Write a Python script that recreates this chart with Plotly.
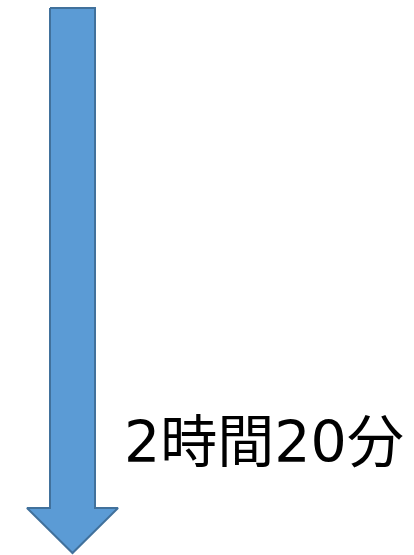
import plotly.graph_objects as go

# Data
label = ["2時間20分"]
duration_minutes = [140]

# Layout geometry (pixels in a 414x555 canvas)
W, H = 414, 555
shaft_left, shaft_right = 50, 95
shaft_top, head_top = 8, 508
head_left, head_right = 27, 118
tip_y = 553
tip_x = (shaft_left + shaft_right) / 2

xs = [shaft_left, shaft_right, shaft_right, head_right, tip_x, head_left, shaft_left, shaft_left]
ys = [shaft_top, shaft_top, head_top, head_top, tip_y, head_top, head_top, shaft_top]

fig = go.Figure()
fig.add_trace(go.Scatter(
    x=xs, y=ys, mode="lines", fill="toself",
    fillcolor="#5B9BD5", line=dict(color="#41719C", width=2),
    hoverinfo="skip", showlegend=False,
))
fig.add_trace(go.Scatter(
    x=[264], y=[448], mode="text", text=label,
    textfont=dict(family="DejaVu Sans, Noto Sans CJK JP", size=57, color="#000000"),
    hoverinfo="skip", showlegend=False,
))

fig.update_layout(
    width=W, height=H,
    margin=dict(l=0, r=0, t=0, b=0),
    paper_bgcolor="white", plot_bgcolor="white",
    xaxis=dict(range=[0, W], visible=False, fixedrange=True),
    yaxis=dict(range=[H, 0], visible=False, fixedrange=True),
)
fig.write_html(
    "out.html",
    config={"displayModeBar": False},
    post_script="document.body.style.margin='0';document.body.style.overflow='hidden';",
)
